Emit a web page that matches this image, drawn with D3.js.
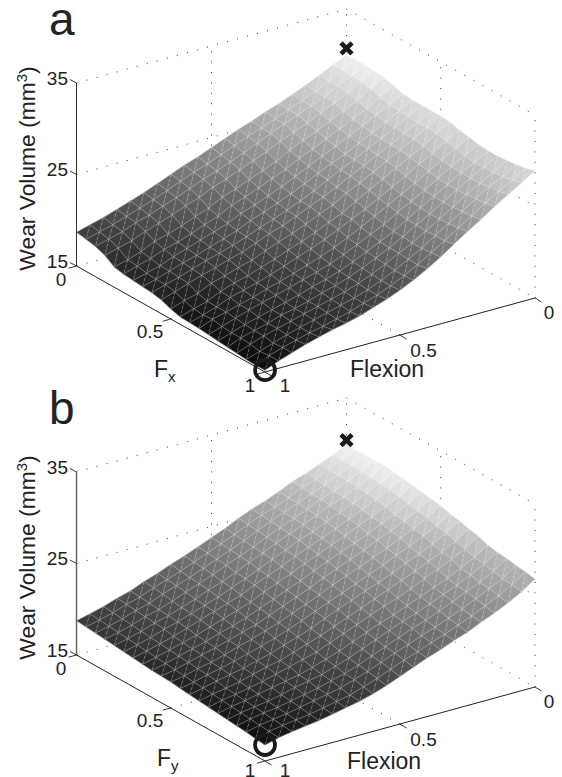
<!DOCTYPE html>
<html>
<head>
<meta charset="utf-8">
<script src="https://cdn.jsdelivr.net/npm/d3@7"></script>
<style>
  html, body { margin: 0; padding: 0; background: #fff; }
  svg { display: block; }
  text { font-family: "Liberation Sans", Arial, sans-serif; fill: #222; }
</style>
</head>
<body>
<svg id="chart" width="562" height="777"></svg>
<script>
// tick labels
const zTicks = [15, 25, 35];
const forceTicks = [0, 0.5, 1];
const flexionTicks = [0, 0.5, 1];

// wear volume, one row per flexion step (0 .. 1), one column per force step (0 .. 1)
const wearFx = [
  [30,30,30,29.9,29.8,29.5,29.2,29.1,29.1,29.1,29.1,29,28.7,28.5,28.3,28.2,28.2,28.3,28.4,28.6,28.9],
  [29.3,29.3,29.3,29.2,29,28.7,28.4,28.3,28.3,28.2,28.3,28.2,27.9,27.7,27.5,27.3,27.4,27.4,27.5,27.7,28],
  [28.6,28.5,28.6,28.4,28.1,27.8,27.7,27.5,27.5,27.4,27.4,27.2,27,26.8,26.7,26.6,26.6,26.6,26.8,26.9,27.1],
  [27.9,27.8,27.8,27.7,27.4,27.1,26.9,26.7,26.7,26.6,26.6,26.4,26.2,26,25.8,25.7,25.7,25.8,25.9,26,26.2],
  [27.3,27.2,27.2,27,26.7,26.4,26.2,26,26,25.9,25.8,25.6,25.3,25.1,24.9,24.8,24.8,24.8,24.9,25,25.2],
  [26.7,26.6,26.6,26.3,26,25.7,25.5,25.2,25.2,25.1,25,24.8,24.5,24.3,24.1,24,23.9,23.9,24,24.1,24.3],
  [26.2,26,26,25.7,25.4,25,24.8,24.6,24.5,24.4,24.2,24,23.7,23.5,23.3,23.1,23.1,23,23.1,23.1,23.3],
  [25.6,25.4,25.4,25.1,24.7,24.4,24.1,23.9,23.8,23.6,23.5,23.2,22.9,22.7,22.4,22.2,22.2,22.1,22.1,22.2,22.3],
  [25.1,24.9,24.7,24.4,23.9,23.6,23.4,23.2,23,22.9,22.6,22.3,22.2,21.9,21.7,21.5,21.4,21.4,21.3,21.3,21.4],
  [24.5,24.3,24.1,23.8,23.3,23,22.7,22.5,22.3,22.3,22,21.7,21.5,21.2,21,20.8,20.7,20.6,20.5,20.5,20.6],
  [23.9,23.7,23.5,23.2,22.7,22.4,22.1,21.9,21.7,21.6,21.3,21,20.8,20.5,20.3,20.1,20,19.9,19.8,19.8,19.9],
  [23.3,23.1,22.9,22.6,22.1,21.8,21.5,21.3,21.1,21,20.7,20.4,20.2,19.9,19.7,19.5,19.4,19.3,19.2,19.2,19.3],
  [22.8,22.6,22.4,22.1,21.6,21.3,21,20.8,20.6,20.5,20.2,19.9,19.7,19.4,19.2,19,18.9,18.8,18.7,18.7,18.8],
  [22.2,22,21.8,21.4,20.8,20.5,20.3,20.1,20,19.9,19.6,19.3,19.1,18.9,18.8,18.6,18.5,18.4,18.3,18.2,18.3],
  [21.6,21.4,21.2,20.9,20.3,20,19.8,19.6,19.5,19.3,19,18.8,18.6,18.4,18.3,18.1,18,18,17.9,17.8,17.9],
  [21,20.8,20.7,20.3,19.7,19.4,19.3,19.1,19,18.9,18.6,18.3,18.1,18,17.9,17.7,17.6,17.6,17.5,17.4,17.6],
  [20.5,20.3,20.1,19.8,19.2,18.9,18.8,18.6,18.6,18.4,18.1,17.9,17.7,17.5,17.5,17.3,17.3,17.2,17.1,17.1,17.2],
  [20,19.8,19.7,19.3,18.8,18.5,18.3,18.2,18.1,18,17.7,17.4,17.3,17.1,17.1,16.9,16.8,16.8,16.7,16.7,16.8],
  [19.5,19.3,19.1,18.7,18.1,17.9,17.7,17.7,17.6,17.5,17,16.7,16.7,16.7,16.6,16.5,16.4,16.4,16.2,16.3,16.3],
  [19.1,18.9,18.7,18.3,17.6,17.5,17.3,17.2,17.2,17,16.6,16.3,16.2,16.3,16.1,16,16,15.9,15.7,15.8,15.8],
  [18.7,18.5,18.3,17.9,17.2,17,16.9,16.8,16.7,16.5,16.1,15.8,15.75,15.7,15.6,15.5,15.4,15.3,15.2,15.15,15.2]
];
const wearFy = [
  [29.9,29.9,29.9,29.9,29.9,29.8,29.7,29.5,29.3,29.2,29,28.7,28.5,28.2,28,27.6,27.4,27.3,27.1,27,26.8],
  [29.2,29.2,29.2,29.1,29.1,29,28.9,28.7,28.5,28.3,28.1,27.8,27.6,27.3,27,26.7,26.5,26.3,26.1,26,25.8],
  [28.6,28.6,28.5,28.5,28.4,28.3,28.2,28,27.7,27.6,27.3,27.1,26.8,26.5,26.3,25.9,25.7,25.5,25.4,25.2,25],
  [28,27.9,27.9,27.8,27.7,27.6,27.5,27.3,27.1,26.9,26.7,26.4,26.1,25.9,25.6,25.2,25,24.9,24.7,24.5,24.3],
  [27.5,27.4,27.3,27.3,27.2,27,26.9,26.7,26.4,26.3,26,25.8,25.5,25.2,25,24.6,24.4,24.2,24,23.8,23.7],
  [26.8,26.7,26.7,26.6,26.5,26.4,26.2,26,25.8,25.6,25.4,25.1,24.8,24.6,24.3,24,23.8,23.6,23.4,23.2,23],
  [26.2,26.1,26.1,26,25.9,25.7,25.6,25.4,25.2,25,24.7,24.5,24.2,24,23.7,23.4,23.2,23,22.8,22.6,22.5],
  [25.7,25.6,25.5,25.4,25.3,25.2,25,24.8,24.6,24.4,24.2,23.9,23.7,23.4,23.2,22.8,22.7,22.5,22.3,22.1,21.9],
  [25.1,25,24.9,24.8,24.7,24.5,24.4,24.2,24,23.8,23.6,23.3,23.1,22.8,22.6,22.3,22.1,21.9,21.7,21.5,21.4],
  [24.4,24.3,24.2,24.1,24,23.9,23.7,23.5,23.3,23.1,22.9,22.7,22.5,22.2,22,21.7,21.5,21.3,21.2,21,20.8],
  [23.8,23.7,23.6,23.5,23.4,23.2,23.1,22.9,22.7,22.5,22.3,22.1,21.9,21.6,21.4,21.1,20.9,20.7,20.6,20.4,20.2],
  [23.2,23.1,23,22.9,22.7,22.6,22.5,22.3,22.1,21.9,21.7,21.5,21.2,21,20.8,20.5,20.3,20.1,20,19.8,19.6],
  [22.6,22.5,22.4,22.3,22.1,22,21.8,21.6,21.5,21.3,21.1,20.9,20.7,20.5,20.2,20,19.8,19.6,19.5,19.3,19.1],
  [22.1,21.9,21.8,21.7,21.6,21.4,21.3,21.1,20.9,20.7,20.6,20.4,20.2,20,19.8,19.5,19.3,19.2,19,18.8,18.7],
  [21.5,21.4,21.3,21.2,21,20.9,20.8,20.6,20.4,20.3,20.1,19.9,19.7,19.5,19.4,19.1,19,18.8,18.7,18.5,18.4],
  [21,20.9,20.8,20.6,20.5,20.4,20.3,20.1,20,19.8,19.7,19.5,19.3,19.2,19,18.8,18.7,18.5,18.4,18.2,18.1],
  [20.4,20.3,20.2,20.1,20,19.9,19.8,19.6,19.5,19.4,19.2,19.1,18.9,18.8,18.6,18.5,18.3,18.2,18.1,17.9,17.8],
  [20,19.9,19.8,19.7,19.6,19.5,19.3,19.2,19.1,19,18.8,18.7,18.6,18.4,18.3,18.2,18,17.9,17.8,17.7,17.6],
  [19.5,19.4,19.3,19.2,19.1,19,18.9,18.8,18.7,18.6,18.5,18.4,18.3,18.1,18,17.9,17.8,17.7,17.6,17.5,17.4],
  [19.1,19,18.9,18.8,18.7,18.6,18.5,18.4,18.3,18.2,18.1,18,17.95,17.85,17.75,17.65,17.55,17.45,17.35,17.25,17.15],
  [18.75,18.65,18.55,18.45,18.35,18.25,18.15,18.05,17.95,17.9,17.85,17.7,17.6,17.5,17.4,17.3,17.2,17.1,17,16.85,16.75]
];

// where the X and the O sit on each panel (force, flexion, wear)
const crossA = [0, 0, 30.7];
const circleA = [1, 1, 15.2];
const crossB = [0, 0, 30.4];
const circleB = [1, 1, 16.75];

const svg = d3.select("#chart");

// oblique projection, all offsets are relative to the corner where the axes meet on the left
const forceX = d3.scaleLinear().domain([0, 1]).range([0, 188.5]);
const forceY = d3.scaleLinear().domain([0, 1]).range([0, 106]);
const flexX = d3.scaleLinear().domain([1, 0]).range([0, 270]);
const flexY = d3.scaleLinear().domain([1, 0]).range([0, -74]);
const zY = d3.scaleLinear().domain([15, 35]).range([0, -183]);

const project = (f, fl, z) => [forceX(f) + flexX(fl), forceY(f) + flexY(fl) + zY(z)];
const line = d3.line();

function drawPanel(cfg) {
  const g = svg.append("g").attr("transform", `translate(76.5,${cfg.top})`);
  const n = cfg.wear.length - 1;

  // --- dotted box grid ---
  const zMin = zTicks[0], zMax = zTicks[zTicks.length - 1];
  const gridLines = [];
  zTicks.forEach(z => {
    gridLines.push([[0, 1, z], [0, 0, z]]);
    gridLines.push([[0, 0, z], [1, 0, z]]);
  });
  gridLines.push([[0, 0.5, zMin], [0, 0.5, zMax]]);
  gridLines.push([[0, 0, zMin], [0, 0, zMax]]);
  gridLines.push([[0.5, 0, zMin], [0.5, 0, zMax]]);
  gridLines.push([[1, 0, zMin], [1, 0, zMax]]);
  gridLines.push([[0.5, 1, zMin], [0.5, 0, zMin]]);
  gridLines.push([[1, 0.5, zMin], [0, 0.5, zMin]]);

  g.append("g").selectAll("path").data(gridLines).join("path")
    .attr("d", d => line(d.map(p => project(...p))))
    .attr("fill", "none")
    .attr("stroke", "#333")
    .attr("stroke-width", 1)
    .attr("stroke-dasharray", "1 9.4");

  // --- surface, two triangles per cell, back to front ---
  const shade = d3.scaleLinear().domain(cfg.shadeDomain).range(cfg.shadeRange).clamp(true);
  const node = (i, j) => project(i / n, j / n, cfg.wear[j][i]);
  const tris = [];
  for (let j = 0; j < n; j++) {
    for (let i = 0; i < n; i++) {
      tris.push({ d: i + j, pts: [[i, j], [i + 1, j], [i + 1, j + 1]] });
      tris.push({ d: i + j + 0.5, pts: [[i, j], [i + 1, j + 1], [i, j + 1]] });
    }
  }
  tris.sort((a, b) => a.d - b.d);

  g.append("g").selectAll("path").data(tris).join("path")
    .attr("d", t => line(t.pts.map(p => node(p[0], p[1]))) + "Z")
    .each(function(t) {
      const z = d3.mean(t.pts, p => cfg.wear[p[1]][p[0]]);
      const c = d3.rgb(255 * shade(z), 255 * shade(z), 255 * shade(z)).formatHex();
      d3.select(this).attr("fill", c).attr("stroke", c).attr("stroke-width", 0.4);
    });

  // mesh lines along both grid directions, the diagonals look broken in the original
  const meshLines = [], diagLines = [];
  for (let k = 0; k <= n; k++) {
    meshLines.push(d3.range(n + 1).map(i => node(i, k)));
    meshLines.push(d3.range(n + 1).map(j => node(k, j)));
  }
  for (let j = 0; j < n; j++) {
    for (let i = 0; i < n; i++) diagLines.push([node(i, j), node(i + 1, j + 1)]);
  }
  g.append("g").selectAll("path").data(meshLines).join("path")
    .attr("d", line).attr("fill", "none")
    .attr("stroke", "#fff").attr("stroke-opacity", 0.34).attr("stroke-width", 0.8);
  g.append("g").selectAll("path").data(diagLines).join("path")
    .attr("d", line).attr("fill", "none")
    .attr("stroke", "#fff").attr("stroke-opacity", 0.34).attr("stroke-width", 0.8)
    .attr("stroke-dasharray", "3.5 1.5");

  // --- axes ---
  const axisLine = (a, b, col, w) => g.append("path")
    .attr("d", line([project(...a), project(...b)]))
    .attr("fill", "none").attr("stroke", col).attr("stroke-width", w);
  axisLine([0, 1, zMin], [0, 1, zMax], cfg.zAxisColor, cfg.zAxisWidth);
  axisLine([0, 1, zMin], [1, 1, zMin], "#222", 1);
  axisLine([1, 1, zMin], [1, 0, zMin], "#222", 1);

  const tick = (p, dx, dy) => g.append("path")
    .attr("d", line([p, [p[0] + dx, p[1] + dy]]))
    .attr("fill", "none").attr("stroke", "#222").attr("stroke-width", 0.9);

  zTicks.forEach(z => {
    const p = project(0, 1, z);
    tick(p, -6.5, -3.5);
    g.append("text").attr("x", p[0] - 8.5).attr("y", p[1] + 1.5)
      .attr("text-anchor", "end").attr("font-size", 19).text(z);
  });

  // the "1" labels sit lower than the rest and touch the page bottom on panel b
  const forceOffset = { 0: [-15.5, 13.5], 0.5: [-20.75, 12.5], 1: [-15, cfg.oneDy] };
  forceTicks.forEach(f => {
    const p = project(f, 1, zMin);
    tick(p, -8, 2.2);
    g.append("text").attr("x", p[0] + forceOffset[f][0]).attr("y", p[1] + forceOffset[f][1] + 6.5)
      .attr("text-anchor", "middle").attr("font-size", 19).text(f);
  });

  const flexOffset = { 0: [14, 14.5], 0.5: [23.5, 15], 1: [20, cfg.oneDy] };
  flexionTicks.forEach(fl => {
    const p = project(1, fl, zMin);
    tick(p, 6.5, 4);
    g.append("text").attr("x", p[0] + flexOffset[fl][0]).attr("y", p[1] + flexOffset[fl][1] + 6.5)
      .attr("text-anchor", "middle").attr("font-size", 19).text(fl);
  });

  // --- markers ---
  const cr = project(...cfg.cross);
  g.append("path")
    .attr("transform", `translate(${cr[0]},${cr[1]})`)
    .attr("d", d3.symbol().type(d3.symbolX).size(80)())
    .attr("fill", "none").attr("stroke", "#1a1a1a").attr("stroke-width", 4.6);
  const ci = project(...cfg.circle);
  g.append("circle").attr("cx", ci[0]).attr("cy", ci[1]).attr("r", 10)
    .attr("fill", "none").attr("stroke", "#1a1a1a").attr("stroke-width", 3.8);

  // --- titles ---
  svg.append("text").attr("x", 49).attr("y", cfg.top - 231).attr("font-size", 46).text(cfg.letter);

  const yl = svg.append("text")
    .attr("transform", `translate(35,${cfg.top - 97.5}) rotate(-90)`)
    .attr("text-anchor", "middle").attr("font-size", 22.8);
  yl.append("tspan").text("Wear Volume (mm");
  yl.append("tspan").attr("font-size", 15).attr("dy", -8).text("3");
  yl.append("tspan").attr("dy", 8).text(")");

  const fl = svg.append("text").attr("x", cfg.forceX).attr("y", cfg.top + 111).attr("font-size", 23);
  fl.append("tspan").text("F");
  fl.append("tspan").attr("font-size", 15).attr("dy", 5).text(cfg.forceSub);

  svg.append("text").attr("x", cfg.flexX).attr("y", cfg.top + cfg.flexDy).attr("font-size", 23).text("Flexion");
}

drawPanel({
  letter: "a", top: 266, wear: wearFx, cross: crossA, circle: circleA,
  shadeDomain: [15.2, 18.7, 28.9, 30], shadeRange: [0.04, 0.24, 0.86, 0.95],
  zAxisColor: "#333", zAxisWidth: 1, forceSub: "x", forceX: 154, flexX: 350, flexDy: 111, oneDy: 13
});
drawPanel({
  letter: "b", top: 655, wear: wearFy, cross: crossB, circle: circleB,
  shadeDomain: [16.75, 18.75, 26.8, 29.9], shadeRange: [0.04, 0.22, 0.7, 0.95],
  zAxisColor: "#666", zAxisWidth: 1.5, forceSub: "y", forceX: 157, flexX: 347, flexDy: 114, oneDy: 9.5
});
</script>
</body>
</html>
